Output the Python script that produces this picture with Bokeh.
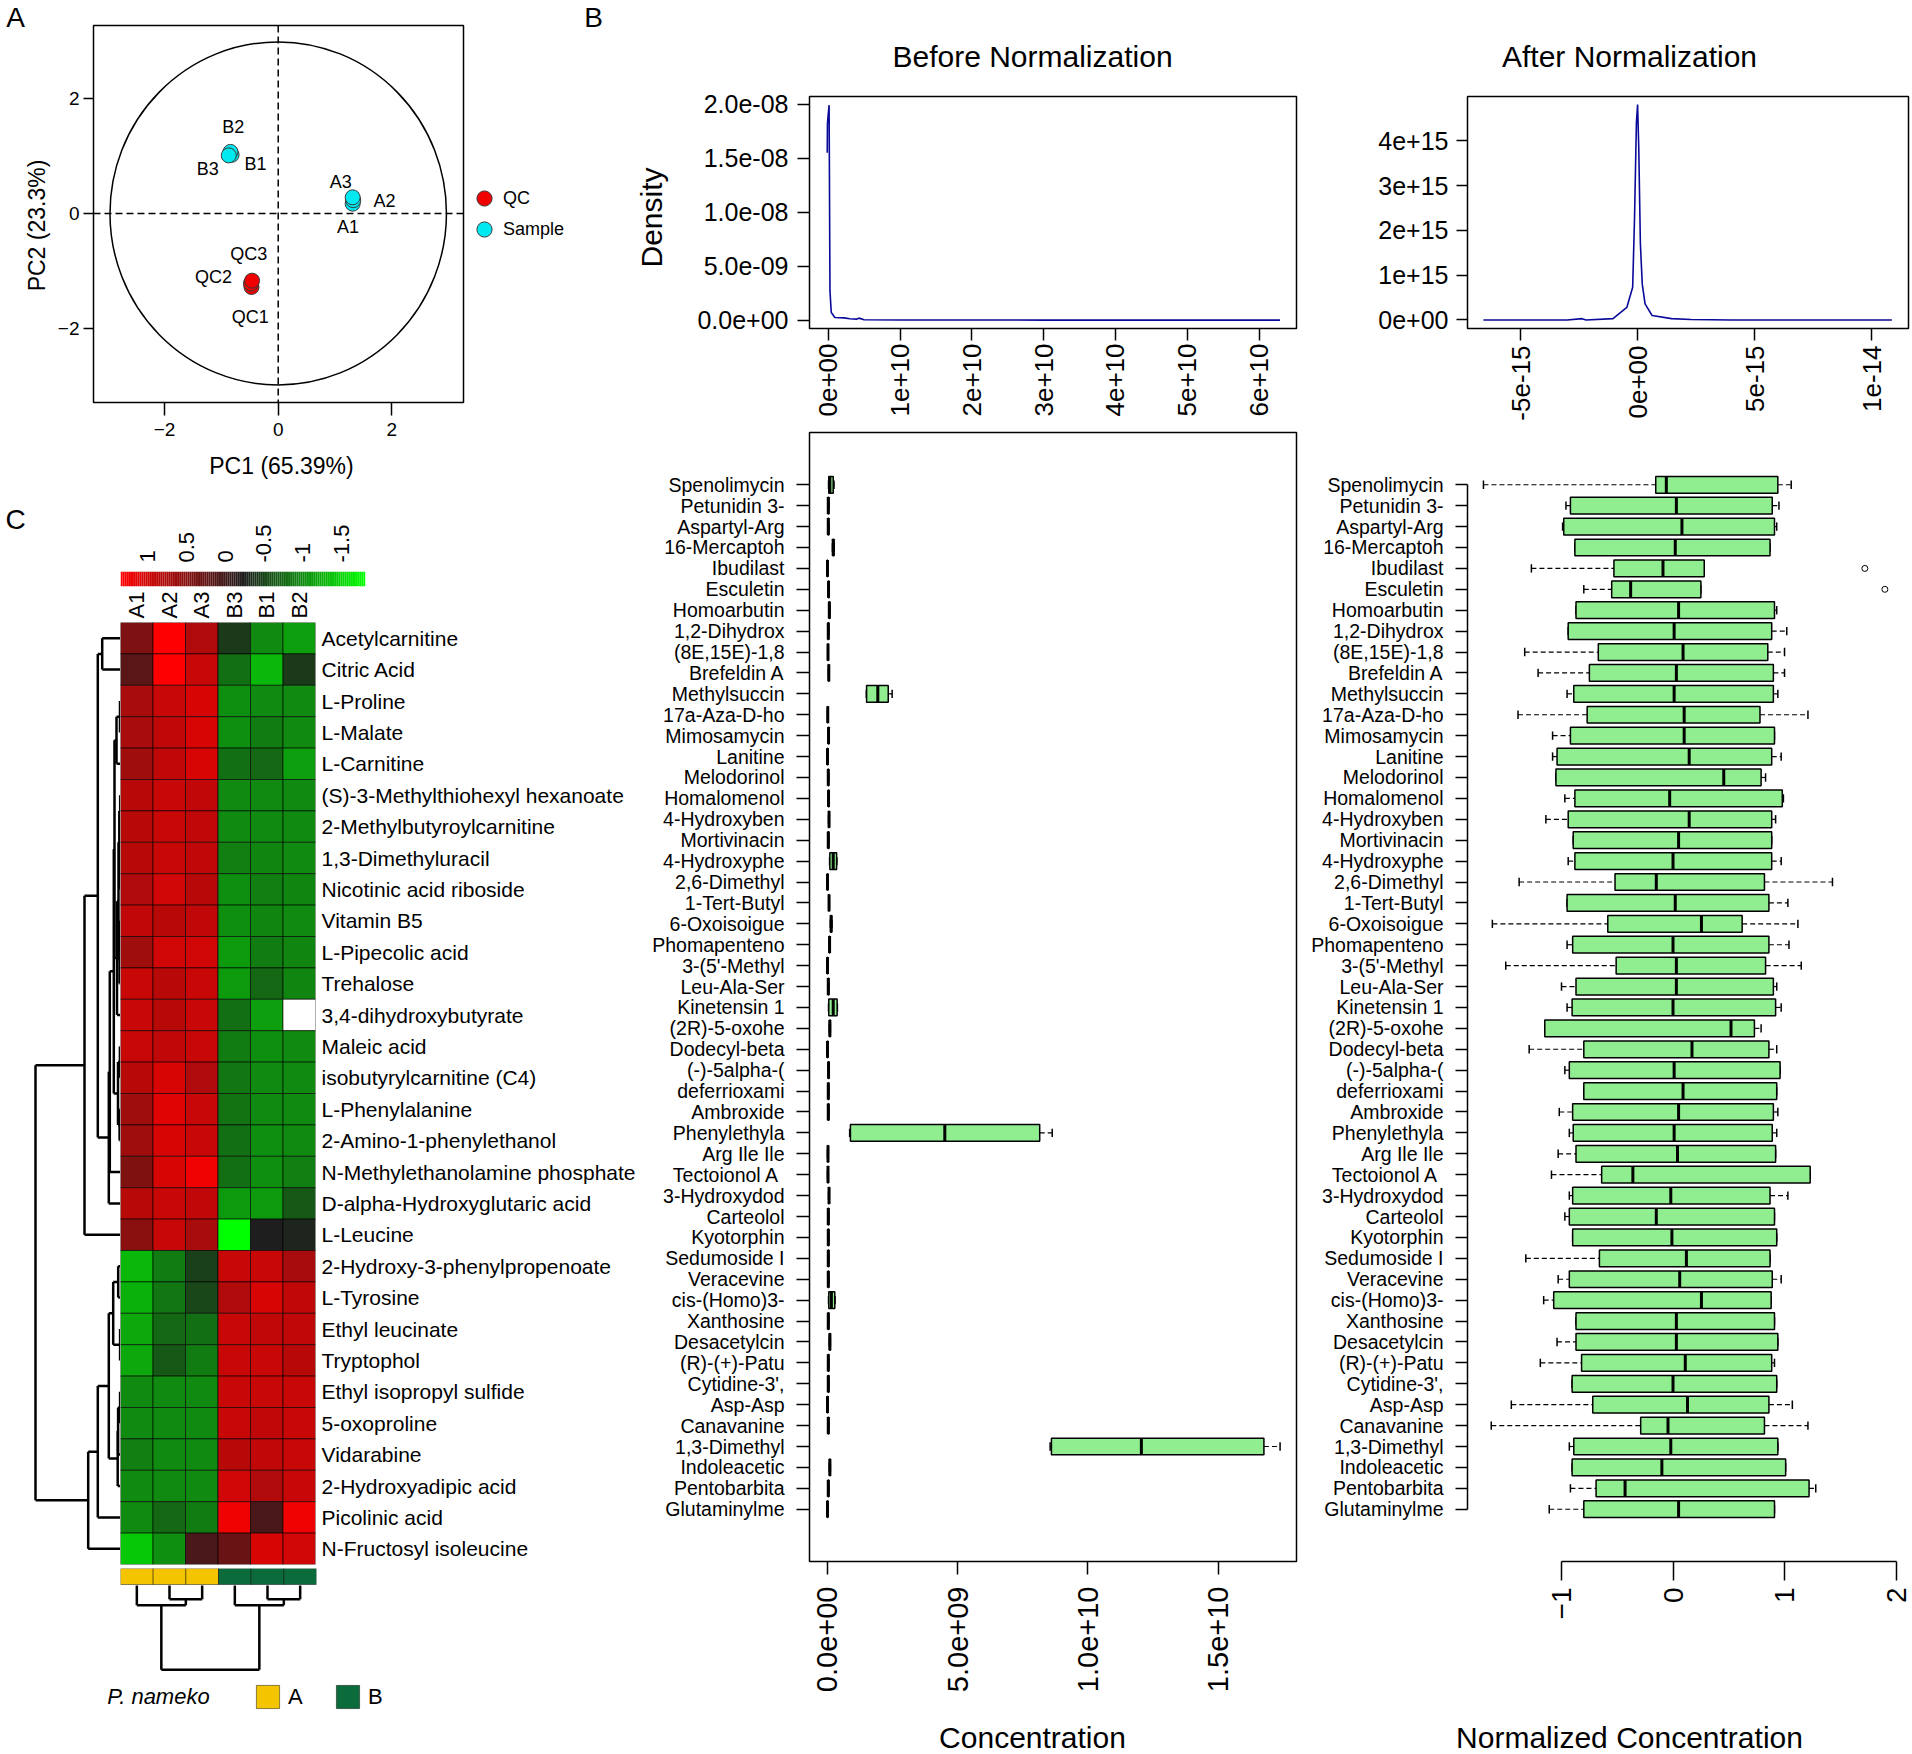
import math
import numpy as np
from bokeh.plotting import figure
from bokeh.models import (Range1d, FixedTicker, Span, Legend, LegendItem,
                          LinearColorMapper, ColumnDataSource, CustomJSTickFormatter)
from bokeh.transform import transform
from bokeh.core.properties import value
from bokeh.embed import file_html
from bokeh.resources import INLINE

FONT = "Liberation Sans"

# ======================= DATA =======================
# ---- Panel A: PCA scores ----
pca_sample_names = ["A1", "A2", "A3", "B1", "B2", "B3"]
pca_sample_pc1 = [1.31, 1.32, 1.31, -0.82, -0.84, -0.87]
pca_sample_pc2 = [0.17, 0.23, 0.28, 1.02, 1.07, 1.01]
pca_qc_names = ["QC1", "QC2", "QC3"]
pca_qc_pc1 = [-0.47, -0.48, -0.46]
pca_qc_pc2 = [-1.28, -1.22, -1.17]
pca_label_text = ["A1", "A2", "A3", "B1", "B2", "B3", "QC1", "QC2", "QC3"]
pca_label_pc1 = [1.23, 1.87, 1.10, -0.40, -0.79, -1.24, -0.49, -1.14, -0.52]
pca_label_pc2 = [-0.23, 0.22, 0.54, 0.86, 1.50, 0.77, -1.81, -1.11, -0.71]
pca_ellipse_width = 5.92
pca_ellipse_height = 5.97
pca_group_colors = {"QC": "#F00000", "Sample": "#00E8F0"}

# ---- Panel B: density before (x in 1e10, y in 1e-9) / after (x in 1e-15, y in 1e15) ----
before_conc_e10 = [-0.013, -0.010, 0.0, 0.013, 0.025, 0.043, 0.093, 0.22, 0.30, 0.40, 0.43, 0.50, 1.0, 3.0, 6.29]
before_density_e9 = [15.5, 18.2, 19.0, 19.9, 2.7, 0.7, 0.24, 0.20, 0.12, 0.09, 0.18, 0.03, 0.01, 0.0, 0.0]
after_conc_e15 = [-6.59, -3.0, -2.38, -2.2, -1.05, -0.46, -0.21, -0.13, -0.05, 0.0, 0.05, 0.12,
                  0.20, 0.32, 0.62, 1.45, 2.29, 4.0, 10.87]
after_density_e15 = [0.0, 0.0, 0.03, 0.0, 0.03, 0.28, 0.73, 2.29, 4.41, 4.81, 3.85, 1.70,
                     0.80, 0.36, 0.10, 0.03, 0.01, 0.0, 0.0]

# ---- Panel B: boxplots ----
box_names = ["Spenolimycin", "Petunidin 3-", "Aspartyl-Arg", "16-Mercaptoh", "Ibudilast", "Esculetin",
             "Homoarbutin", "1,2-Dihydrox", "(8E,15E)-1,8", "Brefeldin A", "Methylsuccin", "17a-Aza-D-ho",
             "Mimosamycin", "Lanitine", "Melodorinol", "Homalomenol", "4-Hydroxyben", "Mortivinacin",
             "4-Hydroxyphe", "2,6-Dimethyl", "1-Tert-Butyl", "6-Oxoisoigue", "Phomapenteno", "3-(5'-Methyl",
             "Leu-Ala-Ser", "Kinetensin 1", "(2R)-5-oxohe", "Dodecyl-beta", "(-)-5alpha-(", "deferrioxami",
             "Ambroxide", "Phenylethyla", "Arg Ile Ile", "Tectoionol  A", "3-Hydroxydod", "Carteolol",
             "Kyotorphin", "Sedumoside I", "Veracevine", "cis-(Homo)3-", "Xanthosine", "Desacetylcin",
             "(R)-(+)-Patu", "Cytidine-3',", "Asp-Asp", "Canavanine", "1,3-Dimethyl", "Indoleacetic",
             "Pentobarbita", "Glutaminylme"]
box_rows = list(range(1, 51))

# raw concentration, units of 1e9
conc_lo = [0.05, 0.02, 0.02, 0.20, 0.00, 0.03, 0.06, 0.02, 0.02, 0.05,
           1.50, 0.01, 0.03, 0.00, 0.02, 0.03, 0.05, 0.02, 0.09, 0.00,
           0.06, 0.12, 0.08, 0.00, 0.02, 0.05, 0.08, 0.00, 0.03, 0.02,
           0.02, 0.86, 0.01, 0.01, 0.05, 0.02, 0.02, 0.02, 0.02, 0.05,
           0.02, 0.08, 0.02, 0.02, 0.00, 0.02, 8.55, 0.08, 0.02, 0.00]
conc_q1 = [0.06, 0.03, 0.03, 0.21, 0.00, 0.04, 0.07, 0.03, 0.02, 0.05,
           1.51, 0.02, 0.04, 0.01, 0.03, 0.04, 0.06, 0.03, 0.10, 0.01,
           0.06, 0.13, 0.08, 0.01, 0.03, 0.06, 0.09, 0.01, 0.04, 0.03,
           0.03, 0.89, 0.02, 0.02, 0.06, 0.03, 0.03, 0.03, 0.03, 0.06,
           0.03, 0.09, 0.03, 0.03, 0.01, 0.03, 8.60, 0.09, 0.03, 0.01]
conc_med = [0.10, 0.04, 0.04, 0.23, 0.01, 0.05, 0.08, 0.04, 0.03, 0.06,
            1.94, 0.02, 0.05, 0.01, 0.04, 0.05, 0.07, 0.04, 0.23, 0.01,
            0.07, 0.15, 0.09, 0.01, 0.04, 0.23, 0.10, 0.01, 0.05, 0.04,
            0.04, 4.51, 0.03, 0.03, 0.07, 0.04, 0.04, 0.04, 0.04, 0.16,
            0.04, 0.10, 0.04, 0.04, 0.01, 0.04, 12.05, 0.10, 0.04, 0.01]
conc_q3 = [0.23, 0.06, 0.06, 0.26, 0.01, 0.07, 0.10, 0.06, 0.04, 0.07,
           2.34, 0.03, 0.07, 0.02, 0.05, 0.07, 0.07, 0.06, 0.36, 0.02,
           0.07, 0.17, 0.10, 0.02, 0.06, 0.38, 0.12, 0.02, 0.07, 0.06,
           0.06, 8.15, 0.04, 0.04, 0.07, 0.06, 0.06, 0.06, 0.06, 0.29,
           0.06, 0.12, 0.06, 0.06, 0.02, 0.06, 16.75, 0.12, 0.06, 0.02]
conc_hi = [0.26, 0.07, 0.07, 0.27, 0.01, 0.07, 0.10, 0.06, 0.04, 0.07,
           2.49, 0.03, 0.07, 0.02, 0.06, 0.07, 0.08, 0.06, 0.37, 0.03,
           0.08, 0.18, 0.11, 0.02, 0.06, 0.39, 0.12, 0.02, 0.07, 0.06,
           0.06, 8.63, 0.04, 0.04, 0.08, 0.06, 0.06, 0.06, 0.06, 0.30,
           0.06, 0.12, 0.06, 0.06, 0.02, 0.06, 17.37, 0.12, 0.06, 0.02]

# normalized concentration
norm_lo = [-1.70, -0.96, -0.99, -0.88, -1.27, -0.80, -0.87, -0.94, -1.33, -1.21,
           -0.95, -1.39, -1.08, -1.08, -1.05, -0.97, -1.14, -0.895, -0.94, -1.38,
           -0.95, -1.62, -0.95, -1.50, -1.00, -0.95, -1.15, -1.29, -0.97, -0.80,
           -1.02, -0.93, -1.03, -1.09, -0.93, -0.97, -0.90, -1.32, -1.03, -1.16,
           -0.87, -1.04, -1.19, -0.905, -1.45, -1.63, -0.93, -0.905, -0.92, -1.11]
norm_q1 = [-0.155, -0.92, -0.98, -0.88, -0.53, -0.55, -0.87, -0.94, -0.67, -0.75,
           -0.89, -0.77, -0.92, -1.04, -1.05, -0.88, -0.94, -0.895, -0.88, -0.52,
           -0.95, -0.585, -0.90, -0.51, -0.87, -0.905, -1.15, -0.80, -0.93, -0.80,
           -0.90, -0.895, -0.87, -0.64, -0.90, -0.93, -0.90, -0.66, -0.93, -1.07,
           -0.87, -0.87, -0.82, -0.905, -0.72, -0.29, -0.89, -0.905, -0.69, -0.80]
norm_med = [-0.06, 0.03, 0.08, 0.02, -0.09, -0.38, 0.05, 0.01, 0.09, 0.03,
            0.01, 0.10, 0.10, 0.145, 0.455, -0.03, 0.145, 0.05, 0.00, -0.15,
            0.02, 0.255, 0.00, 0.03, 0.03, 0.00, 0.52, 0.17, 0.01, 0.09,
            0.05, 0.01, 0.04, -0.36, -0.02, -0.15, -0.01, 0.12, 0.06, 0.255,
            0.03, 0.03, 0.11, 0.00, 0.13, -0.045, -0.02, -0.10, -0.43, 0.05]
norm_q3 = [0.94, 0.89, 0.91, 0.87, 0.28, 0.25, 0.91, 0.885, 0.85, 0.90,
           0.90, 0.78, 0.91, 0.885, 0.79, 0.98, 0.885, 0.885, 0.885, 0.82,
           0.86, 0.62, 0.86, 0.83, 0.90, 0.92, 0.73, 0.86, 0.96, 0.93,
           0.90, 0.89, 0.92, 1.23, 0.87, 0.91, 0.93, 0.87, 0.89, 0.88,
           0.91, 0.94, 0.885, 0.93, 0.86, 0.82, 0.94, 1.01, 1.22, 0.91]
norm_hi = [1.06, 0.95, 0.93, 0.87, 0.28, 0.25, 0.93, 1.02, 1.00, 1.00,
           0.94, 1.21, 0.91, 0.97, 0.83, 0.99, 0.92, 0.885, 0.97, 1.43,
           1.03, 1.12, 1.04, 1.15, 0.93, 0.97, 0.79, 0.93, 0.96, 0.93,
           0.94, 0.93, 0.92, 1.23, 1.03, 0.91, 0.93, 0.87, 0.97, 0.88,
           0.91, 0.94, 0.91, 0.93, 1.07, 1.21, 0.94, 1.01, 1.28, 0.91]
norm_out_row = [5, 6]
norm_out_val = [1.72, 1.90]

# ---- Panel C: heatmap ----
hm_metabolites = ["Acetylcarnitine", "Citric Acid", "L-Proline", "L-Malate", "L-Carnitine",
                  "(S)-3-Methylthiohexyl hexanoate", "2-Methylbutyroylcarnitine", "1,3-Dimethyluracil",
                  "Nicotinic acid riboside", "Vitamin B5", "L-Pipecolic acid", "Trehalose",
                  "3,4-dihydroxybutyrate", "Maleic acid", "isobutyrylcarnitine (C4)", "L-Phenylalanine",
                  "2-Amino-1-phenylethanol", "N-Methylethanolamine phosphate", "D-alpha-Hydroxyglutaric acid",
                  "L-Leucine", "2-Hydroxy-3-phenylpropenoate", "L-Tyrosine", "Ethyl leucinate", "Tryptophol",
                  "Ethyl isopropyl sulfide", "5-oxoproline", "Vidarabine", "2-Hydroxyadipic acid",
                  "Picolinic acid", "N-Fructosyl isoleucine"]
hm_samples = ["A1", "A2", "A3", "B3", "B1", "B2"]
hm_groups = ["A", "A", "A", "B", "B", "B"]
nan = float("nan")
hm_A1 = [0.44, 0.19, 0.74, 0.74, 0.68, 0.85, 0.85, 0.85, 0.80, 0.91, 0.68, 0.96, 0.96, 0.96, 0.85,
         0.68, 0.68, 0.46, 0.85, 0.53, -1.31, -1.26, -1.20, -1.20, -0.99, -0.99, -0.92, -0.99, -0.99, -1.42]
hm_A2 = [1.35, 1.35, 0.96, 0.91, 0.91, 0.96, 0.96, 0.96, 1.02, 0.85, 1.02, 0.85, 0.85, 0.91, 1.08,
         1.13, 1.08, 1.08, 0.96, 0.96, -0.89, -0.86, -0.76, -0.64, -0.99, -0.99, -0.99, -0.99, -0.76, -1.03]
hm_A3 = [0.80, 0.96, 1.08, 1.08, 1.08, 0.91, 0.91, 0.91, 0.85, 0.91, 1.02, 0.96, 0.96, 0.96, 0.80,
         0.96, 0.96, 1.245, 0.91, 0.74, -0.47, -0.52, -0.81, -0.89, -0.99, -0.99, -0.99, -0.99, -0.89, 0.08]
hm_B3 = [-0.43, -0.81, -1.03, -1.03, -0.81, -0.99, -0.99, -0.92, -1.03, -1.03, -1.10, -1.10, -0.81, -0.89, -0.86,
         -0.83, -0.81, -0.81, -1.10, -1.81, 0.96, 0.80, 0.96, 0.96, 0.96, 0.96, 0.85, 1.02, 1.245, 0.30]
hm_B1 = [-0.99, -1.31, -0.99, -0.89, -0.76, -0.99, -0.99, -0.95, -0.92, -0.95, -0.89, -0.76, -1.14, -1.03, -0.99,
         -0.99, -1.03, -1.03, -1.10, -0.23, 0.96, 1.08, 0.91, 0.96, 0.96, 0.91, 0.91, 0.80, 0.08, 1.08]
hm_B2 = [-1.14, -0.43, -0.99, -0.99, -1.14, -0.99, -0.99, -0.99, -0.95, -0.99, -0.95, -0.95, nan, -0.99, -0.99,
         -0.99, -0.99, -0.92, -0.65, -0.29, 0.74, 0.91, 0.91, 0.85, 0.96, 0.96, 0.96, 0.96, 1.245, 1.02]
hm_scale_low, hm_scale_high = -1.813, 1.352
hm_scale_ticks = [1, 0.5, 0, -0.5, -1, -1.5]

# row dendrogram (linkage: child a, child b, merge height); leaves 0..29, merges 30..
row_link_a = [0, 2, 31, 5, 7, 33, 9, 36, 35, 38, 13, 15, 40, 32, 43, 44, 45, 30, 47,
              20, 22, 49, 24, 52, 53, 51, 55, 56, 48]
row_link_b = [1, 3, 4, 6, 8, 34, 10, 11, 37, 12, 14, 16, 41, 39, 42, 17, 18, 46, 19,
              21, 23, 50, 25, 26, 27, 54, 28, 29, 57]
row_link_h = [18.3, 0.5, 4.0, 0.3, 0.5, 1.2, 0.6, 1.0, 2.0, 3.5, 0.6, 0.9, 2.5, 6.0, 6.7, 10.7, 11.7, 22.7, 36.0,
              2.3, 0.4, 7.3, 0.4, 2.4, 2.8, 11.7, 22.7, 32.3, 85.0]
# column dendrogram; leaves 0..5 (A1, A2, A3, B3, B1, B2)
col_link_a = [1, 0, 4, 3, 7]
col_link_b = [2, 6, 5, 8, 9]
col_link_h = [13.7, 19.7, 13.7, 19.7, 84.3]
group_colors = {"A": "#F5C400", "B": "#0B6B3A"}


# ======================= HELPERS =======================
def place(p, left, top):
    p.styles = {"position": "absolute", "left": "%.1fpx" % left, "top": "%.1fpx" % top}
    return p


def base_fig(w, h, l, r, t, b, **kw):
    p = figure(width=w, height=h, output_backend="svg", toolbar_location=None, title=None, **kw)
    p.min_border_left = l
    p.min_border_right = r
    p.min_border_top = t
    p.min_border_bottom = b
    p.background_fill_color = "white"
    p.border_fill_color = "white"
    p.outline_line_color = None
    p.grid.visible = False
    return p


def bare_fig(w, h, lo=0, hi=1):
    p = figure(width=w, height=h, output_backend="svg", toolbar_location=None, title=None,
               x_range=Range1d(lo, hi), y_range=Range1d(lo, hi), x_axis_location=None, y_axis_location=None)
    p.min_border_left = 0
    p.min_border_right = 0
    p.min_border_top = 0
    p.min_border_bottom = 0
    p.outline_line_color = None
    p.background_fill_alpha = 0
    p.border_fill_alpha = 0
    p.grid.visible = False
    return p


def text_fig(cx, cy, text, size, w, h, angle=0.0, style="normal"):
    p = bare_fig(w, h)
    p.text(x=[0.5], y=[0.5], text=[text], angle=angle, text_font=value(FONT), text_font_size=size,
           text_font_style=style, text_align="center", text_baseline="middle", text_color="black")
    left = min(max(cx - w / 2.0, 0), 1912 - w)
    top = min(max(cy - h / 2.0, 0), 1754 - h)
    return place(p, left, top)


def style_axis(ax, size, tick_out, standoff, orient=None, ticks=True):
    ax.major_label_text_font = FONT
    ax.major_label_text_font_size = size
    ax.major_label_text_color = "black"
    ax.major_tick_out = tick_out
    ax.major_tick_in = 0
    ax.major_tick_line_color = "black" if ticks else None
    ax.major_tick_line_width = 1.5
    ax.minor_tick_line_color = None
    ax.major_label_standoff = standoff
    ax.axis_line_color = None
    if orient is not None:
        ax.major_label_orientation = orient


def make_legend(items, location, glyph_w, glyph_h, size, standoff, spacing, orientation="vertical"):
    return Legend(items=items, location=location, orientation=orientation, border_line_color=None,
                  background_fill_alpha=0, label_text_font=FONT, label_text_font_size=size,
                  label_text_color="black", glyph_width=glyph_w, glyph_height=glyph_h, label_standoff=standoff,
                  spacing=spacing, padding=0, margin=0, label_height=glyph_h)


def linkage_segments(n, la, lb, lh):
    pos = {i: float(i) for i in range(n)}
    hgt = {i: 0.0 for i in range(n)}
    p0, h0, p1, h1 = [], [], [], []
    for k, (a, b, h) in enumerate(zip(la, lb, lh)):
        for c in (a, b):
            p0.append(pos[c]); h0.append(hgt[c]); p1.append(pos[c]); h1.append(h)
        p0.append(pos[a]); h0.append(h); p1.append(pos[b]); h1.append(h)
        pos[n + k] = (pos[a] + pos[b]) / 2.0
        hgt[n + k] = h
    return p0, h0, p1, h1


def draw_boxes(p, rows, lo, q1, med, q3, hi):
    src = ColumnDataSource(dict(
        y=rows, lo=lo, q1=q1, med=med, q3=q3, hi=hi,
        ys0=[r - 0.2 for r in rows], ys1=[r + 0.2 for r in rows],
        ym0=[r - 0.4 for r in rows], ym1=[r + 0.4 for r in rows]))
    p.segment(x0="lo", y0="y", x1="q1", y1="y", source=src, line_color="black", line_width=1.2, line_dash="5 3")
    p.segment(x0="q3", y0="y", x1="hi", y1="y", source=src, line_color="black", line_width=1.2, line_dash="5 3")
    p.segment(x0="lo", y0="ys0", x1="lo", y1="ys1", source=src, line_color="black", line_width=1.5)
    p.segment(x0="hi", y0="ys0", x1="hi", y1="ys1", source=src, line_color="black", line_width=1.5)
    p.hbar(y="y", left="q1", right="q3", height=0.8, source=src, fill_color="#90EE90",
           line_color="black", line_width=1.5)
    p.segment(x0="med", y0="ym0", x1="med", y1="ym1", source=src, line_color="black", line_width=3)


roots = []

# ======================= PANEL A =======================
pca = base_fig(638, 490, 93, 175, 25, 88, x_range=Range1d(-3.25, 3.26), y_range=Range1d(-3.29, 3.27))
pca.outline_line_color = "black"
pca.outline_line_width = 1.5
pca.ellipse(x=0, y=0, width=pca_ellipse_width, height=pca_ellipse_height, fill_color=None,
            line_color="black", line_width=1.5)
pca.add_layout(Span(location=0, dimension="height", line_color="black", line_dash="7 4", line_width=1.5))
pca.add_layout(Span(location=0, dimension="width", line_color="black", line_dash="7 4", line_width=1.5))
pca.scatter(pca_qc_pc1, pca_qc_pc2, size=15, fill_color=pca_group_colors["QC"], line_color="#3a3a3a", line_width=1)
pca.scatter(pca_sample_pc1, pca_sample_pc2, size=15, fill_color=pca_group_colors["Sample"], line_color="#3a3a3a",
            line_width=1)
pca.text(x=pca_label_pc1, y=pca_label_pc2, text=pca_label_text, text_font=value(FONT), text_font_size="18px",
         text_align="center", text_baseline="middle", text_color="black")
pca.xaxis.ticker = FixedTicker(ticks=[-2, 0, 2])
pca.yaxis.ticker = FixedTicker(ticks=[-2, 0, 2])
style_axis(pca.xaxis[0], "19px", 13, 7)
style_axis(pca.yaxis[0], "19px", 10, 4)
roots.append(place(pca, 0, 0))

# PCA legend (separate small canvas to the right of the score plot; the proxy renderers
# hold the same score data, which lies outside this canvas' range so only the legend shows)
pleg = bare_fig(175, 84, 100, 101)
r_leg_qc = pleg.scatter(pca_qc_pc1, pca_qc_pc2, size=15, fill_color=pca_group_colors["QC"],
                        line_color="#3a3a3a", line_width=1)
r_leg_s = pleg.scatter(pca_sample_pc1, pca_sample_pc2, size=15, fill_color=pca_group_colors["Sample"],
                       line_color="#3a3a3a", line_width=1)
pleg.add_layout(make_legend([LegendItem(label="QC", renderers=[r_leg_qc])], (2, 39), 38, 38, "18px", 0, 0))
pleg.add_layout(make_legend([LegendItem(label="Sample", renderers=[r_leg_s])], (2, 8), 38, 38, "18px", 0, 0))
roots.append(place(pleg, 463, 172))

# ======================= PANEL B: densities =======================
dB = base_fig(662, 425, 171, 4, 96, 97, x_range=Range1d(-0.26, 6.52), y_range=Range1d(-0.78, 20.7))
dB.outline_line_color = "black"
dB.outline_line_width = 1.5
dB.line(before_conc_e10, before_density_e9, line_color="#0A0A9A", line_width=1.6)
dB.xaxis.ticker = FixedTicker(ticks=[0, 1, 2, 3, 4, 5, 6])
dB.xaxis.major_label_overrides = {0: "0e+00", 1: "1e+10", 2: "2e+10", 3: "3e+10", 4: "4e+10", 5: "5e+10",
                                  6: "6e+10"}
dB.yaxis.ticker = FixedTicker(ticks=[0, 5, 10, 15, 20])
dB.yaxis.major_label_overrides = {0: "0.0e+00", 5: "5.0e-09", 10: "1.0e-08", 15: "1.5e-08", 20: "2.0e-08"}
style_axis(dB.xaxis[0], "26px", 12, 3, orient=math.pi / 2)
style_axis(dB.yaxis[0], "25px", 12, 9)
roots.append(place(dB, 638, 0))

dA = base_fig(612, 425, 167, 4, 96, 97, x_range=Range1d(-7.27, 11.58), y_range=Range1d(-0.19, 4.99))
dA.outline_line_color = "black"
dA.outline_line_width = 1.5
dA.line(after_conc_e15, after_density_e15, line_color="#0A0A9A", line_width=1.6)
dA.xaxis.ticker = FixedTicker(ticks=[-5, 0, 5, 10])
dA.xaxis.major_label_overrides = {-5: "-5e-15", 0: "0e+00", 5: "5e-15", 10: "1e-14"}
dA.yaxis.ticker = FixedTicker(ticks=[0, 1, 2, 3, 4])
dA.yaxis.major_label_overrides = {0: "0e+00", 1: "1e+15", 2: "2e+15", 3: "3e+15", 4: "4e+15"}
style_axis(dA.xaxis[0], "26px", 12, 5, orient=math.pi / 2)
style_axis(dA.yaxis[0], "25px", 11, 8)
roots.append(place(dA, 1300, 0))

# ======================= PANEL B: boxplots =======================
name_overrides = {r: n for r, n in zip(box_rows, box_names)}

bL = base_fig(662, 1329, 171, 4, 7, 193, x_range=Range1d(-0.68, 18.0), y_range=Range1d(52.5, -1.5))
bL.outline_line_color = "black"
bL.outline_line_width = 1.5
draw_boxes(bL, box_rows, conc_lo, conc_q1, conc_med, conc_q3, conc_hi)
bL.xaxis.ticker = FixedTicker(ticks=[0, 5, 10, 15])
bL.xaxis.major_label_overrides = {0: "0.0e+00", 5: "5.0e+09", 10: "1.0e+10", 15: "1.5e+10"}
bL.yaxis.ticker = FixedTicker(ticks=box_rows)
bL.yaxis.major_label_overrides = name_overrides
style_axis(bL.xaxis[0], "29px", 13, 12, orient=math.pi / 2)
style_axis(bL.yaxis[0], "19.5px", 13, 12)
roots.append(place(bL, 638, 425))

bR = base_fig(612, 1329, 167, 12, 7, 193, x_range=Range1d(-1.843, 2.04), y_range=Range1d(52.5, -1.5))
draw_boxes(bR, box_rows, norm_lo, norm_q1, norm_med, norm_q3, norm_hi)
bR.scatter(x=norm_out_val, y=norm_out_row, marker="circle", size=6, fill_color=None, line_color="black",
           line_width=1)
bR.xaxis.ticker = FixedTicker(ticks=[-1, 0, 1, 2])
bR.yaxis.ticker = FixedTicker(ticks=box_rows)
bR.yaxis.major_label_overrides = name_overrides
style_axis(bR.xaxis[0], "28px", 19, 7, orient=math.pi / 2)
style_axis(bR.yaxis[0], "19.5px", 12, 12)
for ax in (bR.xaxis[0], bR.yaxis[0]):
    ax.axis_line_color = "black"
    ax.axis_line_width = 1.5
bR.xaxis[0].bounds = (-1, 2)
bR.yaxis[0].bounds = (1, 50)
roots.append(place(bR, 1300, 425))

# ======================= PANEL C: heatmap =======================
green, dark, red = (0, 255, 0), (30, 30, 30), (255, 0, 0)


def ramp(c0, c1, n):
    return ["#%02x%02x%02x" % tuple(int(round(c0[k] + (c1[k] - c0[k]) * i / (n - 1))) for k in range(3))
            for i in range(n)]


palette = ramp(green, dark, 128) + ramp(dark, red, 128)
mapper = LinearColorMapper(palette=palette, low=hm_scale_low, high=hm_scale_high, nan_color="white")

# colour key
cb = base_fig(638, 98, 120, 273, 81, 2, x_range=Range1d(hm_scale_high, hm_scale_low), y_range=Range1d(0, 1),
              x_axis_location="above", y_axis_location=None)
cb_edges = np.linspace(hm_scale_low, hm_scale_high, 129)
cb_src = ColumnDataSource(dict(left=cb_edges[:-1], right=cb_edges[1:], v=(cb_edges[:-1] + cb_edges[1:]) / 2))
cb.quad(left="left", right="right", bottom=0, top=1, source=cb_src, fill_color=transform("v", mapper),
        line_color=None)
cb.xaxis.ticker = FixedTicker(ticks=hm_scale_ticks)
cb.xaxis.formatter = CustomJSTickFormatter(code="return String(tick);")
style_axis(cb.xaxis[0], "22px", 0, 9, orient=math.pi / 2, ticks=False)
roots.append(place(cb, 0, 490))

# heatmap cells
hm_columns = [hm_A1, hm_A2, hm_A3, hm_B3, hm_B1, hm_B2]
cx, cy, cv = [], [], []
for j, col in enumerate(hm_columns):
    for i, v in enumerate(col):
        cx.append(j)
        cy.append(i)
        cv.append(v)
hm_src = ColumnDataSource(dict(x=cx, y=cy, v=np.array(cv, dtype=float)))
n_rows = len(hm_metabolites)
n_cols = len(hm_samples)
hm = base_fig(518, 978, 0, 322, 34, 2, x_range=Range1d(-0.5, n_cols - 0.5), y_range=Range1d(n_rows - 0.5, -0.5),
              x_axis_location="above", y_axis_location="right")
hm.rect(x="x", y="y", width=1, height=1, source=hm_src, fill_color=transform("v", mapper),
        line_color="black", line_width=1, line_alpha=0.6)
hm.xaxis.ticker = FixedTicker(ticks=list(range(n_cols)))
hm.xaxis.major_label_overrides = {i: s for i, s in enumerate(hm_samples)}
hm.yaxis.ticker = FixedTicker(ticks=list(range(n_rows)))
hm.yaxis.major_label_overrides = {i: s for i, s in enumerate(hm_metabolites)}
style_axis(hm.xaxis[0], "22px", 0, 4, orient=math.pi / 2, ticks=False)
style_axis(hm.yaxis[0], "21px", 0, 6, ticks=False)
roots.append(place(hm, 120, 588))

# row dendrogram
rd = base_fig(120, 978, 28, 0, 34, 2, x_range=Range1d(92, 0), y_range=Range1d(n_rows - 0.5, -0.5),
              x_axis_location=None, y_axis_location=None)
rp0, rh0, rp1, rh1 = linkage_segments(n_rows, row_link_a, row_link_b, row_link_h)
rd.segment(x0=rh0, y0=rp0, x1=rh1, y1=rp1, line_color="black", line_width=2.5)
roots.append(place(rd, 0, 588))

# annotation bar + column dendrogram
an = base_fig(638, 108, 120, 322, 2, 2, x_range=Range1d(-0.5, n_cols - 0.5), y_range=Range1d(-5.5, 1),
              x_axis_location=None, y_axis_location=None)
an.extra_y_ranges = {"dend": Range1d(87, -17)}
group_src = {}
for g in ("A", "B"):
    idx = [i for i, gg in enumerate(hm_groups) if gg == g]
    group_src[g] = dict(left=[i - 0.5 for i in idx], right=[i + 0.5 for i in idx],
                        bottom=[0] * len(idx), top=[1] * len(idx))
    an.quad(source=ColumnDataSource(group_src[g]), left="left", right="right", bottom="bottom", top="top",
            fill_color=group_colors[g], line_color="black", line_alpha=0.45, line_width=1)
cp0, ch0, cp1, ch1 = linkage_segments(n_cols, col_link_a, col_link_b, col_link_h)
an.segment(x0=cp0, y0=ch0, x1=cp1, y1=ch1, y_range_name="dend", line_color="black", line_width=2.5)
roots.append(place(an, 0, 1566))

# annotation legend (separate small canvas; proxy renderers share the bar data, out of this range)
aleg = bare_fig(200, 34, 100, 101)
aleg_items = []
for g in ("A", "B"):
    r = aleg.quad(source=ColumnDataSource(group_src[g]), left="left", right="right", bottom="bottom", top="top",
                  fill_color=group_colors[g], line_color="black", line_alpha=0.45, line_width=1)
    aleg_items.append(LegendItem(label=g, renderers=[r]))
aleg.add_layout(make_legend(aleg_items, (23, 3), 29, 29, "22px", 6, 25, orientation="horizontal"))
roots.append(place(aleg, 230, 1680))

# ======================= FREE TEXTS (panel letters, titles, axis titles) =======================
roots.append(text_fig(15.3, 16.7, "A", "28px", 30, 33))
roots.append(text_fig(593, 16.5, "B", "28px", 30, 33))
roots.append(text_fig(14.7, 518.8, "C", "28px", 30, 34))
roots.append(text_fig(280.5, 465, "PC1 (65.39%)", "23px", 180, 30))
roots.append(text_fig(36, 225, "PC2 (23.3%)", "23px", 30, 160, angle=math.pi / 2))
roots.append(text_fig(1031.5, 56, "Before Normalization", "30px", 320, 40))
roots.append(text_fig(1629, 56, "After Normalization", "30px", 300, 40))
roots.append(text_fig(651, 217, "Density", "30px", 36, 130, angle=math.pi / 2))
roots.append(text_fig(1032, 1737, "Concentration", "30px", 220, 34))
roots.append(text_fig(1629, 1737, "Normalized Concentration", "30px", 380, 34))
roots.append(text_fig(157.8, 1696, "P. nameko", "22px", 130, 30, style="italic"))

open("out.html", "w").write(file_html(roots, INLINE, title="Metabolomics figure"))
